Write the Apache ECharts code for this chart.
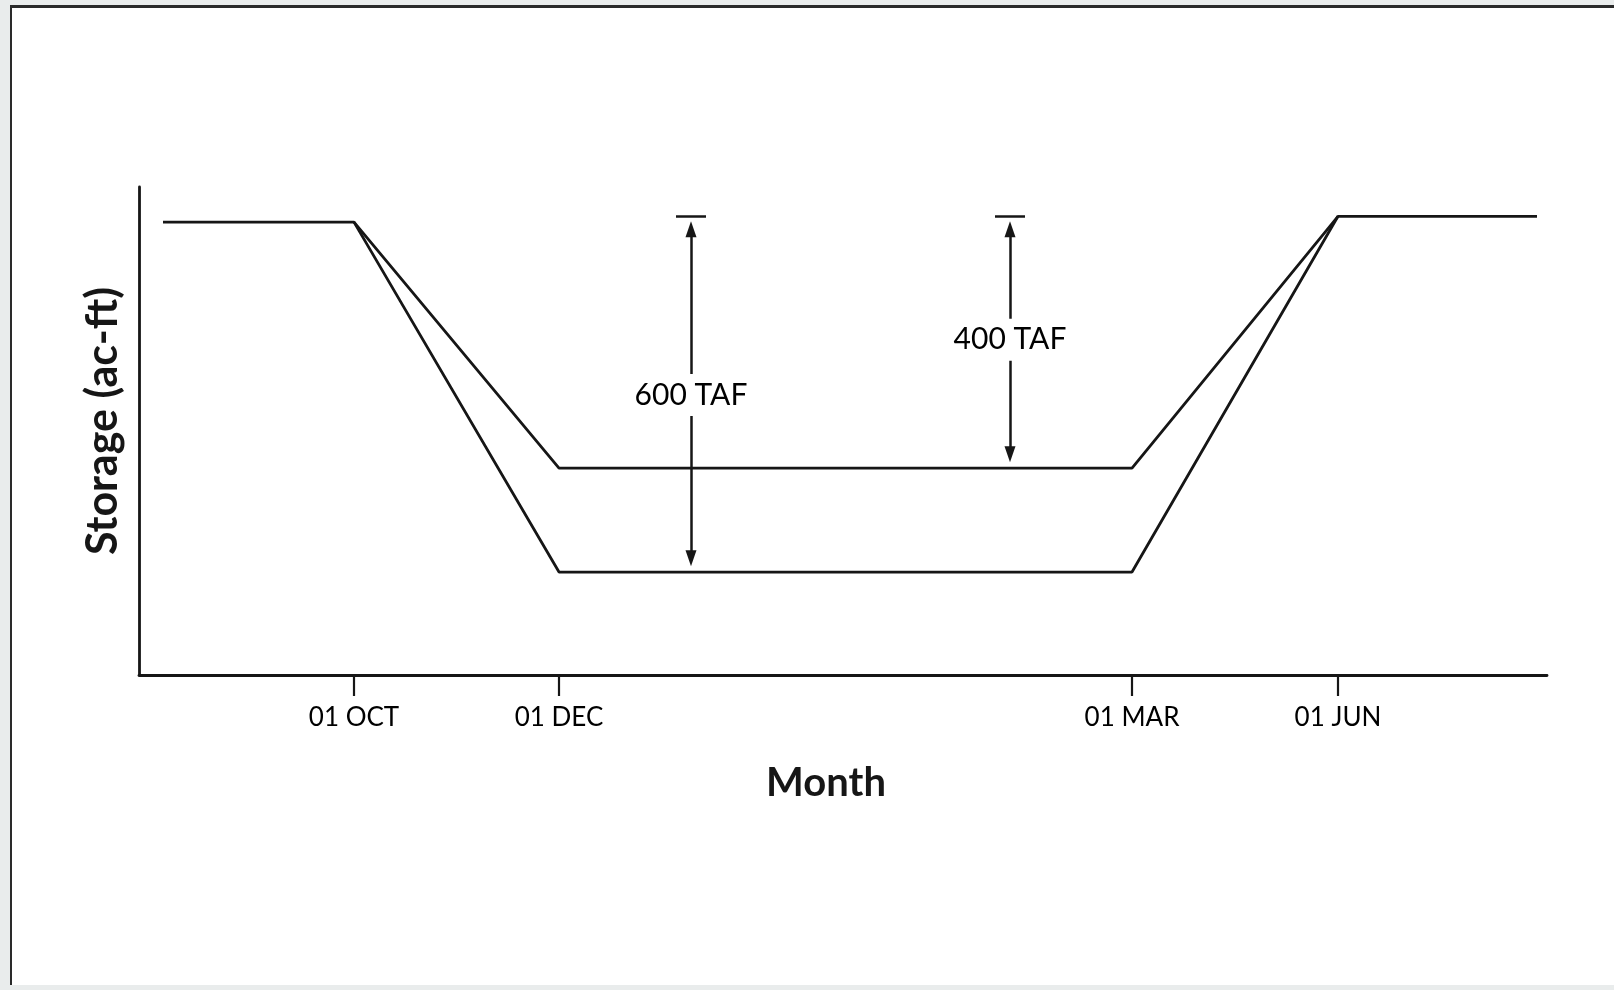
<!DOCTYPE html>
<html>
<head>
<meta charset="utf-8">
<script src="https://cdn.jsdelivr.net/npm/echarts@6/dist/echarts.min.js"></script>
<style>
  html, body { margin: 0; padding: 0; background: #e9ecec; }
  .frame {
    position: absolute; left: 10px; top: 5px; width: 1604px; height: 977px;
    background: #fff; border-left: 2px solid #2a2a2a; border-top: 3px solid #2a2a2a;
  }
  #chart { position: absolute; left: 0; top: 0; width: 1614px; height: 990px; }
</style>
</head>
<body>
<div class="frame"></div>
<div id="chart"></div>
<script>
// schematic axes: x and y are in arbitrary units (no numeric labels in the figure)
const monthTicks = [215, 420, 993, 1199];
const monthLabels = ["01 OCT", "01 DEC", "01 MAR", "01 JUN"];

// upper curve (400 TAF drawdown) and lower curve (600 TAF drawdown)
const upperX = [24, 215, 420, 993, 1199, 1398];
const upperY = [928, 928, 424, 424, 940, 940];
const lowerX = [215, 420, 993, 1199];
const lowerY = [928, 211, 211, 940];

// dimension arrows: bar level, upper tip, lower tip, label position
const tafLabels = ["600 TAF", "400 TAF"];
const tafX = [552, 871];
const tafTop = [940, 940];
const tafTipTop = [930, 930];
const tafBottom = [223, 436];
const tafLabelY = [574, 687];

const ink = "#161616";
const font = "Lato";
const headLen = 16; // px
const pxPerUnit = 488 / 1000; // grid height / y range
const headUnits = headLen / 2 / pxPerUnit; // symbol is centred on the line end

const chart = echarts.init(document.getElementById("chart"));

const arrowLines = [];
const barLines = [];
tafX.forEach((x, i) => {
  arrowLines.push([
    { coord: [x, tafTipTop[i] - headUnits] },
    { coord: [x, tafBottom[i] + headUnits] },
  ]);
  barLines.push([
    { coord: [x - 15, tafTop[i]], symbol: "none" },
    { coord: [x + 15, tafTop[i]], symbol: "none" },
  ]);
});

const option = {
  animation: false,
  backgroundColor: "transparent",
  grid: { left: 139, top: 187, right: 67, bottom: 315 },
  xAxis: {
    type: "value",
    min: 0,
    max: 1408,
    name: "Month",
    nameLocation: "middle",
    nameGap: 88,
    nameTextStyle: { fontFamily: font, fontWeight: "bold", fontSize: 40, color: ink, padding: [0, 34, 0, 0] },
    splitLine: { show: false },
    axisLine: { lineStyle: { color: ink, width: 2.8 } },
    axisTick: { customValues: monthTicks, length: 21, lineStyle: { color: ink, width: 2.2 } },
    axisLabel: {
      customValues: monthTicks,
      margin: 30,
      fontFamily: font,
      fontSize: 26,
      color: "#000",
      formatter: (v) => monthLabels[monthTicks.indexOf(v)] || "",
    },
  },
  yAxis: {
    type: "value",
    min: 0,
    max: 1000,
    name: "Storage (ac-ft)",
    nameLocation: "middle",
    nameGap: 14,
    nameTextStyle: { fontFamily: font, fontWeight: "bold", fontSize: 43, color: ink, padding: [0, 0, 0, 20] },
    splitLine: { show: false },
    axisLine: { show: true, lineStyle: { color: ink, width: 2.8 } },
    axisTick: { show: false },
    axisLabel: { show: false },
  },
  series: [
    {
      type: "line",
      data: upperX.map((x, i) => [x, upperY[i]]),
      showSymbol: false,
      lineStyle: { color: ink, width: 2.8 },
      z: 3,
    },
    {
      type: "line",
      data: lowerX.map((x, i) => [x, lowerY[i]]),
      showSymbol: false,
      lineStyle: { color: ink, width: 2.8 },
      z: 3,
    },
    {
      type: "line",
      data: [],
      markLine: {
        silent: true,
        symbol: ["triangle", "triangle"],
        symbolSize: [11, headLen],
        label: { show: false },
        lineStyle: { color: ink, width: 2.5, type: "solid" },
        data: arrowLines.concat(barLines),
      },
      z: 4,
    },
    {
      type: "scatter",
      symbolSize: 0,
      itemStyle: { opacity: 1 },
      data: tafX.map((x, i) => ({ value: [x, tafLabelY[i]], name: tafLabels[i] })),
      label: {
        show: true,
        position: "inside",
        formatter: (p) => p.name,
        fontFamily: font,
        fontSize: 30,
        color: "#000",
        backgroundColor: "#fff",
        padding: [6, 2],
      },
      z: 5,
    },
  ],
};

chart.setOption(option);
</script>
</body>
</html>
